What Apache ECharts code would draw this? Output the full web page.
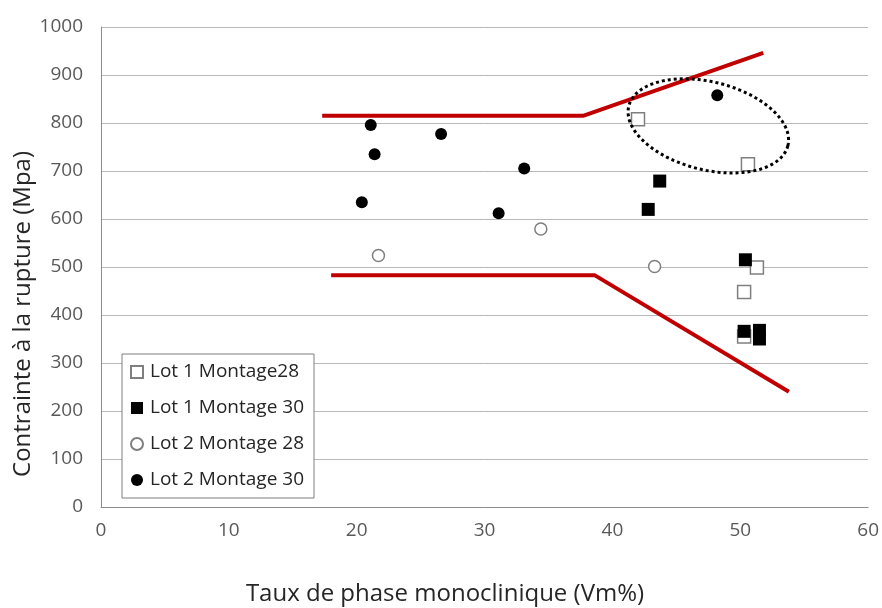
<!DOCTYPE html>
<html>
<head>
<meta charset="utf-8">
<script src="https://cdn.jsdelivr.net/npm/echarts@6/dist/echarts.min.js"></script>
<style>
  html, body { margin: 0; padding: 0; background: #ffffff; }
  #chart { width: 882px; height: 608px; }
</style>
</head>
<body>
<div id="chart"></div>
<script>
// Series names as shown in the legend
const seriesNames = ['Lot 1 Montage28', 'Lot 1 Montage 30', 'Lot 2 Montage 28', 'Lot 2 Montage 30'];

// Measured points: [taux de phase monoclinique (Vm%), contrainte à la rupture (MPa)]
const lot1Montage28 = [[42.0, 808], [50.6, 714], [51.3, 499], [50.3, 448], [50.3, 355]];
const lot1Montage30 = [[43.7, 679], [42.8, 620], [50.4, 515], [50.3, 366], [51.5, 368], [51.5, 350]];
const lot2Montage28 = [[21.7, 524], [34.4, 579], [43.3, 501]];
const lot2Montage30 = [[21.1, 796], [21.4, 735], [20.4, 635], [26.6, 777], [33.1, 705], [31.1, 612], [48.2, 858]];

// Envelope lines (upper and lower)
const upperEnvelope = [[17.3, 815], [37.7, 815], [51.8, 946]];
const lowerEnvelope = [[18.0, 483], [38.6, 483], [53.8, 240]];

// Axis tick values
const xTickValues = [0, 10, 20, 30, 40, 50, 60];
const yTickValues = [0, 100, 200, 300, 400, 500, 600, 700, 800, 900, 1000];

const FONT = '"Open Sans", "Liberation Sans", sans-serif';
const RED = '#c00000';

const chart = echarts.init(document.getElementById('chart'), null, { renderer: 'canvas' });

const openStyle = { color: '#ffffff', borderColor: '#7f7f7f', borderWidth: 1.5, opacity: 1 };
const filledStyle = { color: '#000000', borderColor: '#000000', borderWidth: 0, opacity: 1 };

const titleGraphics = [
  {
    id: 'xTitle', type: 'text', x: 445, y: 594,
    style: { text: 'Taux de phase monoclinique (Vm%)', font: '24px ' + FONT, fill: '#262626',
             textAlign: 'center', textVerticalAlign: 'middle' }
  },
  {
    id: 'yTitle', type: 'text', x: 23, y: 314, rotation: Math.PI / 2,
    style: { text: 'Contrainte à la rupture (Mpa)', font: '24px ' + FONT, fill: '#262626',
             textAlign: 'center', textVerticalAlign: 'middle' }
  }
];

const option = {
  animation: false,
  backgroundColor: '#ffffff',
  grid: { left: 101, top: 27, right: 10, bottom: 101, containLabel: false },
  xAxis: {
    type: 'value',
    min: xTickValues[0],
    max: xTickValues[xTickValues.length - 1],
    interval: xTickValues[1] - xTickValues[0],
    axisLine: { show: true, lineStyle: { color: '#8c8c8c', width: 1 } },
    axisTick: { show: false },
    splitLine: { show: false },
    axisLabel: { fontFamily: FONT, fontSize: 19, color: '#595959', margin: 14,
                 formatter: v => String(v) }
  },
  yAxis: {
    type: 'value',
    min: yTickValues[0],
    max: yTickValues[yTickValues.length - 1],
    interval: yTickValues[1] - yTickValues[0],
    axisLine: { show: true, lineStyle: { color: '#8c8c8c', width: 1 } },
    axisTick: { show: false },
    splitLine: { show: true, lineStyle: { color: '#b8b8b8', width: 1 } },
    axisLabel: { fontFamily: FONT, fontSize: 19, color: '#595959', margin: 18,
                 formatter: v => String(v) }
  },
  legend: {
    data: seriesNames,
    orient: 'vertical',
    left: 122,
    top: 354,
    padding: [8, 10, 8, 8],
    itemGap: 16,
    itemWidth: 12,
    itemHeight: 12,
    backgroundColor: '#ffffff',
    borderColor: '#7f7f7f',
    borderWidth: 1,
    borderRadius: 0,
    textStyle: { fontFamily: FONT, fontSize: 19, color: '#262626', lineHeight: 20, padding: [0, 0, 0, 2] }
  },
  series: [
    {
      name: 'upper envelope', type: 'line', data: upperEnvelope, symbol: 'none', silent: true,
      lineStyle: { color: RED, width: 4 }, z: 1
    },
    {
      name: 'lower envelope', type: 'line', data: lowerEnvelope, symbol: 'none', silent: true,
      lineStyle: { color: RED, width: 4 }, z: 1
    },
    {
      name: seriesNames[0], type: 'scatter', data: lot1Montage28,
      symbol: 'rect', symbolSize: 13, itemStyle: openStyle, z: 3
    },
    {
      name: seriesNames[1], type: 'scatter', data: lot1Montage30,
      symbol: 'rect', symbolSize: 13, itemStyle: filledStyle, z: 4
    },
    {
      name: seriesNames[2], type: 'scatter', data: lot2Montage28,
      symbol: 'circle', symbolSize: 12, itemStyle: openStyle, z: 3
    },
    {
      name: seriesNames[3], type: 'scatter', data: lot2Montage30,
      symbol: 'circle', symbolSize: 12, itemStyle: filledStyle, z: 4
    }
  ],
  graphic: titleGraphics
};

chart.setOption(option);

// Dotted ellipse highlighting the high-Vm / high-stress group, drawn as a closed polygon
const highlightZone = { center: [47.5, 794], rx: 82, ry: 44, tiltDeg: 14, steps: 120 };
const c = chart.convertToPixel({ gridIndex: 0 }, highlightZone.center);
const tilt = highlightZone.tiltDeg * Math.PI / 180;
const ring = [];
for (let i = 0; i < highlightZone.steps; i++) {
  const t = (i / highlightZone.steps) * 2 * Math.PI;
  const ex = highlightZone.rx * Math.cos(t);
  const ey = highlightZone.ry * Math.sin(t);
  ring.push([c[0] + ex * Math.cos(tilt) - ey * Math.sin(tilt),
             c[1] + ex * Math.sin(tilt) + ey * Math.cos(tilt)]);
}
chart.setOption({
  graphic: titleGraphics.concat([
    {
      id: 'highlightZone', type: 'polygon',
      shape: { points: ring },
      style: { fill: 'none', stroke: '#000000', lineWidth: 3, lineDash: [3, 3] },
      z: 10
    }
  ])
});
</script>
</body>
</html>
